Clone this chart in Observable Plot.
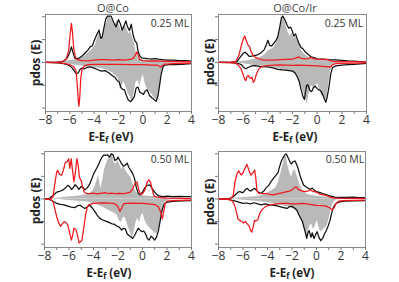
<!DOCTYPE html>
<html><head><meta charset="utf-8">
<script src="https://cdn.jsdelivr.net/npm/d3@7"></script>
<script src="https://cdn.jsdelivr.net/npm/@observablehq/plot@0.6"></script>
<style>
body{margin:0;background:#fff;font-family:"Open Sans",sans-serif;}
#c{position:relative;width:399px;height:282px;overflow:hidden;}
#c svg{position:absolute;}
.lab{position:absolute;white-space:nowrap;transform:translate(-50%,-50%);color:#333;line-height:1;}
.title{font-size:11px;color:#444;}
.ml{font-size:10.5px;color:#333;}
.xl{font-weight:bold;font-size:11.5px;color:#222;}
.xl sub{font-size:8px;vertical-align:-2px;line-height:0;}
.yl{font-weight:bold;font-size:12px;color:#222;transform:translate(-50%,-50%) rotate(-90deg);}
</style></head>
<body><div id="c"></div>
<script>
// ---- data: energies relative to Fermi level (eV), pdos values (spin up > 0, spin down < 0)
const xMajorTicks = [-8,-6,-4,-2,0,2,4];
const xMinorTicks = [-7,-5,-3,-1,1,3];
const yTicks = [-2,-1,0,1,2];
const panelTitles = ["O@Co","O@Co/Ir"];
const coverageLabels = ["0.25 ML","0.25 ML","0.50 ML","0.50 ML"];

// Panel 1: O@Co 0.25 ML
const p1GrayUp = [[-8,0],[-6.8,0.02],[-6.3,0.05],[-6,0.08],[-5.5,0.12],[-5,0.2],[-4.7,0.3],[-4.4,0.45],[-4.1,0.6],[-3.9,0.75],[-3.7,1.1],[-3.6,1.3],[-3.5,1.2],[-3.35,0.95],[-3.2,1.3],[-3.0,1.7],[-2.85,1.95],[-2.7,2.0],[-2.55,1.9],[-2.4,1.65],[-2.25,1.7],[-2.1,1.8],[-1.95,1.65],[-1.8,1.4],[-1.6,1.55],[-1.45,1.65],[-1.3,1.45],[-1.15,1.25],[-1.0,1.35],[-0.85,1.1],[-0.7,0.85],[-0.55,0.45],[-0.4,0.2],[-0.2,0.12],[0,0.1],[0.5,0.1],[1,0.1],[1.5,0.08],[2,0.05],[3,0.03],[4,0.02]];
const p1BlackUp = [[-8,0],[-7,0.01],[-6.5,0.05],[-6.2,0.2],[-6.0,0.45],[-5.87,0.68],[-5.75,0.45],[-5.6,0.2],[-5.45,0.15],[-5.2,0.2],[-5,0.28],[-4.8,0.38],[-4.5,0.55],[-4.3,0.7],[-4.15,0.72],[-4.0,0.95],[-3.8,1.2],[-3.6,1.42],[-3.45,1.05],[-3.35,1.1],[-3.2,1.5],[-3.05,1.9],[-2.9,2.03],[-2.6,2.03],[-2.4,1.75],[-2.2,1.56],[-2.0,1.88],[-1.85,1.7],[-1.7,1.42],[-1.55,1.6],[-1.4,1.82],[-1.25,1.55],[-1.1,1.4],[-0.95,1.68],[-0.8,1.2],[-0.65,0.95],[-0.5,0.85],[-0.4,0.5],[-0.25,0.28],[-0.1,0.2],[0.2,0.18],[0.6,0.15],[1,0.17],[1.3,0.14],[1.6,0.12],[2,0.1],[2.5,0.1],[3,0.08],[3.5,0.08],[4,0.06]];
const p1RedUp = [[-8,0],[-7,0.01],[-6.6,0.04],[-6.3,0.15],[-6.1,0.5],[-5.98,1.2],[-5.87,1.71],[-5.78,1.3],[-5.68,0.6],[-5.55,0.25],[-5.4,0.12],[-5,0.08],[-4.5,0.07],[-4,0.1],[-3.5,0.12],[-3,0.12],[-2.5,0.1],[-2,0.12],[-1.5,0.1],[-1.0,0.13],[-0.75,0.2],[-0.6,0.35],[-0.49,0.46],[-0.38,0.3],[-0.25,0.12],[0,0.08],[0.5,0.06],[1,0.07],[1.5,0.06],[2,0.05],[3,0.04],[4,0.02]];
const p1GrayDn = [[-8,0],[-7,-0.01],[-6.5,-0.03],[-6,-0.08],[-5.5,-0.12],[-5,-0.17],[-4.5,-0.2],[-4,-0.22],[-3.5,-0.27],[-3,-0.32],[-2.5,-0.45],[-2.2,-0.6],[-2.0,-0.72],[-1.85,-1.2],[-1.7,-1.0],[-1.55,-0.85],[-1.4,-1.05],[-1.2,-1.35],[-1.0,-1.55],[-0.85,-1.75],[-0.7,-1.3],[-0.55,-0.85],[-0.4,-0.8],[-0.25,-1.05],[-0.1,-0.7],[0.05,-0.55],[0.2,-0.95],[0.4,-1.2],[0.6,-1.3],[0.8,-1.45],[1.0,-1.6],[1.2,-1.65],[1.35,-1.3],[1.5,-0.7],[1.6,-0.3],[1.75,-0.1],[2,-0.05],[3,-0.02],[4,-0.01]];
const p1BlackDn = [[-8,0],[-7,-0.02],[-6.5,-0.05],[-6.2,-0.1],[-6.0,-0.15],[-5.8,-0.25],[-5.6,-0.4],[-5.45,-0.5],[-5.3,-0.45],[-5.15,-0.3],[-5,-0.25],[-4.8,-0.28],[-4.6,-0.22],[-4.3,-0.2],[-4,-0.25],[-3.7,-0.32],[-3.4,-0.38],[-3.1,-0.36],[-2.8,-0.45],[-2.5,-0.58],[-2.3,-0.65],[-2.1,-0.8],[-1.95,-0.85],[-1.8,-1.1],[-1.65,-1.18],[-1.5,-1.2],[-1.35,-1.45],[-1.2,-1.65],[-1.0,-1.72],[-0.85,-1.62],[-0.7,-1.5],[-0.55,-1.12],[-0.4,-1.08],[-0.25,-1.3],[-0.1,-1.35],[0.05,-1.4],[0.2,-1.25],[0.35,-1.2],[0.55,-1.45],[0.75,-1.55],[0.9,-1.62],[1.1,-1.7],[1.25,-1.45],[1.35,-1.1],[1.5,-0.55],[1.65,-0.2],[1.8,-0.12],[2.2,-0.1],[2.7,-0.1],[3.2,-0.08],[3.7,-0.06],[4,-0.05]];
const p1RedDn = [[-8,0],[-7,-0.01],[-6.5,-0.04],[-6,-0.1],[-5.7,-0.18],[-5.5,-0.35],[-5.4,-0.9],[-5.3,-1.7],[-5.25,-1.92],[-5.18,-1.5],[-5.1,-0.7],[-5.0,-0.3],[-4.8,-0.15],[-4.5,-0.1],[-4,-0.08],[-3,-0.08],[-2,-0.08],[-1,-0.1],[0,-0.1],[0.8,-0.12],[1.2,-0.12],[1.45,-0.2],[1.6,-0.15],[1.8,-0.07],[2.5,-0.05],[4,-0.03]];

// Panel 2: O@Co/Ir 0.25 ML
const p2GrayUp = [[-8,0],[-6.8,0.01],[-6.3,0.03],[-6,0.05],[-5.5,0.08],[-5,0.15],[-4.6,0.22],[-4.2,0.35],[-4,0.5],[-3.8,0.55],[-3.5,0.65],[-3.25,0.9],[-3.05,1.3],[-2.9,1.8],[-2.8,2.0],[-2.65,1.85],[-2.5,1.6],[-2.35,1.3],[-2.2,1.15],[-2.05,1.3],[-1.9,1.05],[-1.75,1.15],[-1.6,0.95],[-1.45,0.75],[-1.3,0.55],[-1.1,0.4],[-0.9,0.3],[-0.6,0.2],[-0.3,0.15],[0,0.12],[0.5,0.1],[1,0.08],[1.5,0.05],[2,0.04],[3,0.02],[4,0.01]];
const p2BlackUp = [[-8,0],[-7,0.01],[-6.5,0.05],[-6.2,0.25],[-6.0,0.4],[-5.85,0.45],[-5.7,0.38],[-5.5,0.26],[-5.3,0.28],[-5.1,0.3],[-4.9,0.32],[-4.6,0.4],[-4.3,0.55],[-4.1,0.8],[-4.0,0.97],[-3.85,0.75],[-3.7,0.72],[-3.5,0.85],[-3.35,0.95],[-3.2,1.12],[-3.05,1.5],[-2.9,1.95],[-2.8,2.03],[-2.7,1.95],[-2.6,1.85],[-2.45,1.65],[-2.3,1.5],[-2.15,1.55],[-2.0,1.35],[-1.9,1.15],[-1.75,1.25],[-1.6,1.0],[-1.45,0.8],[-1.3,0.65],[-1.15,0.6],[-1.0,0.48],[-0.8,0.38],[-0.5,0.25],[-0.2,0.2],[0,0.16],[0.5,0.14],[1,0.12],[1.5,0.11],[2,0.09],[2.5,0.07],[3,0.06],[3.5,0.04],[4,0.02]];
const p2RedUp = [[-8,0],[-7,0.01],[-6.6,0.05],[-6.35,0.3],[-6.15,0.75],[-5.98,1.05],[-5.87,1.16],[-5.75,0.95],[-5.6,0.75],[-5.46,0.68],[-5.35,0.45],[-5.2,0.32],[-5.0,0.22],[-4.7,0.15],[-4.4,0.11],[-4,0.1],[-3.5,0.1],[-3,0.12],[-2.5,0.13],[-2,0.14],[-1.7,0.2],[-1.5,0.24],[-1.3,0.18],[-1,0.16],[-0.7,0.17],[-0.5,0.22],[-0.3,0.16],[0,0.14],[0.5,0.13],[0.9,0.12],[1.2,0.06],[1.6,0.04],[2.5,0.03],[4,0.02]];
const p2GrayDn = [[-8,0],[-7,-0.01],[-6.5,-0.03],[-6,-0.06],[-5.5,-0.1],[-5,-0.14],[-4.5,-0.17],[-4,-0.2],[-3.5,-0.24],[-3,-0.3],[-2.5,-0.35],[-2,-0.42],[-1.7,-0.55],[-1.5,-0.7],[-1.3,-1.0],[-1.15,-1.25],[-1.0,-1.45],[-0.9,-1.6],[-0.8,-1.85],[-0.7,-1.5],[-0.55,-1.15],[-0.4,-1.0],[-0.25,-1.2],[-0.1,-1.05],[0.05,-0.9],[0.2,-1.2],[0.35,-1.45],[0.5,-1.55],[0.65,-1.7],[0.8,-1.55],[0.95,-0.9],[1.1,-0.35],[1.25,-0.12],[1.5,-0.05],[2,-0.03],[3,-0.01],[4,0]];
const p2BlackDn = [[-8,0],[-7,-0.01],[-6.6,-0.03],[-6.3,-0.06],[-6.1,-0.12],[-5.95,-0.22],[-5.8,-0.28],[-5.6,-0.22],[-5.3,-0.15],[-5.0,-0.14],[-4.7,-0.17],[-4.4,-0.18],[-4.0,-0.2],[-3.6,-0.24],[-3.2,-0.3],[-2.8,-0.33],[-2.4,-0.35],[-2.0,-0.38],[-1.8,-0.45],[-1.6,-0.65],[-1.45,-0.85],[-1.3,-1.2],[-1.15,-1.5],[-1.03,-1.62],[-0.95,-1.3],[-0.85,-1.0],[-0.75,-0.98],[-0.6,-1.22],[-0.45,-1.28],[-0.3,-1.1],[-0.15,-1.05],[0,-1.15],[0.15,-1.2],[0.3,-1.25],[0.45,-1.4],[0.6,-1.62],[0.7,-1.75],[0.8,-1.55],[0.95,-1.1],[1.1,-0.5],[1.25,-0.22],[1.5,-0.15],[2,-0.12],[2.5,-0.1],[3,-0.08],[3.5,-0.06],[4,-0.04]];
const p2RedDn = [[-8,0],[-7,-0.01],[-6.6,-0.04],[-6.4,-0.12],[-6.2,-0.25],[-6.05,-0.45],[-5.9,-0.7],[-5.8,-0.8],[-5.7,-0.65],[-5.6,-0.57],[-5.48,-0.65],[-5.38,-0.7],[-5.28,-0.65],[-5.18,-0.87],[-5.08,-0.8],[-4.95,-0.55],[-4.8,-0.35],[-4.6,-0.22],[-4.3,-0.16],[-4,-0.14],[-3.5,-0.12],[-3,-0.11],[-2.5,-0.12],[-2,-0.13],[-1.5,-0.12],[-1,-0.13],[-0.5,-0.14],[0,-0.15],[0.5,-0.17],[0.9,-0.2],[1.1,-0.2],[1.25,-0.1],[1.5,-0.05],[2,-0.04],[3,-0.03],[4,-0.02]];

// Panel 3: O@Co 0.50 ML
const p3GrayUp = [[-8,0],[-7.2,0.01],[-6.8,0.04],[-6.3,0.07],[-5.8,0.1],[-5.3,0.12],[-4.8,0.16],[-4.4,0.22],[-4.1,0.32],[-3.9,0.5],[-3.75,0.75],[-3.6,1.05],[-3.5,0.75],[-3.4,0.45],[-3.25,0.8],[-3.1,1.3],[-2.95,1.55],[-2.8,1.75],[-2.6,1.9],[-2.45,1.95],[-2.3,1.6],[-2.15,1.55],[-2.0,1.7],[-1.85,1.5],[-1.7,1.3],[-1.55,1.45],[-1.4,1.3],[-1.25,1.15],[-1.1,1.05],[-0.95,0.95],[-0.8,0.7],[-0.65,0.45],[-0.5,0.3],[-0.3,0.2],[0,0.14],[0.5,0.12],[1,0.1],[1.5,0.07],[2,0.05],[3,0.03],[4,0.02]];
const p3BlackUp = [[-8,0],[-7.6,0.02],[-7.3,0.15],[-7.0,0.3],[-6.7,0.35],[-6.5,0.4],[-6.3,0.48],[-6.1,0.6],[-5.95,0.55],[-5.8,0.42],[-5.65,0.5],[-5.5,0.63],[-5.35,0.55],[-5.2,0.42],[-5.0,0.55],[-4.85,0.5],[-4.7,0.4],[-4.5,0.5],[-4.35,0.62],[-4.2,0.8],[-4.0,1.1],[-3.8,1.3],[-3.6,1.5],[-3.45,1.7],[-3.3,1.85],[-3.15,1.95],[-3.0,1.93],[-2.85,1.95],[-2.7,1.85],[-2.55,2.0],[-2.4,1.95],[-2.25,1.7],[-2.1,1.75],[-2.0,1.85],[-1.85,1.7],[-1.7,1.55],[-1.55,1.45],[-1.4,1.5],[-1.25,1.58],[-1.1,1.38],[-0.95,1.25],[-0.8,1.12],[-0.65,0.9],[-0.5,0.5],[-0.35,0.25],[-0.2,0.18],[0,0.3],[0.2,0.5],[0.4,0.6],[0.6,0.62],[0.8,0.45],[1.0,0.3],[1.2,0.18],[1.4,0.12],[1.7,0.1],[2,0.12],[2.5,0.1],[3,0.11],[3.5,0.1],[4,0.1]];
const p3RedUp = [[-8,0],[-7.5,0.01],[-7.3,0.1],[-7.15,0.7],[-7.0,1.2],[-6.93,1.27],[-6.8,1.1],[-6.6,1.05],[-6.45,1.3],[-6.3,1.62],[-6.15,1.65],[-6.03,1.78],[-5.93,1.35],[-5.82,1.78],[-5.72,1.3],[-5.6,0.75],[-5.5,1.1],[-5.35,1.78],[-5.25,1.5],[-5.15,0.95],[-5.0,0.8],[-4.9,0.55],[-4.75,0.3],[-4.6,0.25],[-4.3,0.24],[-4.0,0.26],[-3.7,0.22],[-3.4,0.25],[-3.1,0.28],[-2.8,0.24],[-2.5,0.26],[-2.2,0.23],[-1.9,0.25],[-1.6,0.24],[-1.3,0.26],[-1.0,0.3],[-0.8,0.45],[-0.6,0.7],[-0.45,0.75],[-0.3,0.4],[-0.15,0.2],[0,0.22],[0.2,0.4],[0.35,0.7],[0.5,0.85],[0.65,0.75],[0.8,0.4],[0.95,0.12],[1.2,0.08],[1.5,0.06],[2,0.04],[3,0.02],[4,0.01]];
const p3GrayDn = [[-8,0],[-7.2,-0.01],[-6.8,-0.03],[-6.3,-0.06],[-5.8,-0.08],[-5.3,-0.1],[-4.8,-0.12],[-4.4,-0.15],[-4.0,-0.2],[-3.6,-0.28],[-3.2,-0.38],[-2.8,-0.5],[-2.4,-0.6],[-2.1,-0.7],[-1.9,-0.95],[-1.75,-1.05],[-1.6,-0.85],[-1.45,-0.8],[-1.3,-1.0],[-1.15,-1.25],[-1.0,-1.45],[-0.85,-1.75],[-0.7,-1.5],[-0.55,-1.1],[-0.4,-0.85],[-0.25,-1.05],[-0.1,-0.75],[0.05,-0.65],[0.2,-0.95],[0.4,-1.15],[0.6,-1.3],[0.8,-1.4],[1.0,-1.5],[1.2,-1.55],[1.35,-1.3],[1.5,-0.9],[1.65,-0.5],[1.8,-0.2],[2,-0.06],[3,-0.02],[4,-0.01]];
const p3BlackDn = [[-8,0],[-7.6,-0.02],[-7.3,-0.1],[-7.0,-0.2],[-6.7,-0.24],[-6.4,-0.26],[-6.1,-0.32],[-5.8,-0.36],[-5.5,-0.38],[-5.3,-0.3],[-5.1,-0.28],[-4.9,-0.36],[-4.7,-0.42],[-4.5,-0.35],[-4.3,-0.28],[-4.1,-0.4],[-3.9,-0.55],[-3.7,-0.72],[-3.5,-0.85],[-3.3,-0.92],[-3.0,-0.98],[-2.7,-1.05],[-2.5,-1.1],[-2.3,-1.12],[-2.1,-1.2],[-1.9,-1.25],[-1.7,-1.38],[-1.55,-1.3],[-1.4,-1.32],[-1.25,-1.55],[-1.1,-1.62],[-0.95,-1.68],[-0.8,-1.75],[-0.65,-1.62],[-0.5,-1.45],[-0.35,-1.3],[-0.2,-1.38],[-0.05,-1.45],[0.1,-1.42],[0.25,-1.55],[0.4,-1.75],[0.55,-1.82],[0.7,-1.65],[0.85,-1.72],[1.0,-1.82],[1.15,-1.68],[1.3,-1.4],[1.45,-0.95],[1.6,-0.5],[1.75,-0.25],[1.9,-0.16],[2.3,-0.12],[2.8,-0.1],[3.3,-0.09],[4,-0.08]];
const p3RedDn = [[-8,0],[-7.5,-0.02],[-7.3,-0.12],[-7.15,-0.45],[-7.0,-0.8],[-6.85,-1.05],[-6.7,-1.21],[-6.55,-1.1],[-6.4,-1.0],[-6.25,-1.05],[-6.1,-1.15],[-5.95,-1.5],[-5.8,-1.82],[-5.7,-1.6],[-5.6,-1.3],[-5.45,-1.35],[-5.3,-1.6],[-5.18,-1.95],[-5.05,-1.88],[-4.95,-1.85],[-4.8,-1.3],[-4.65,-0.7],[-4.5,-0.35],[-4.35,-0.24],[-4.0,-0.2],[-3.6,-0.18],[-3.2,-0.17],[-2.8,-0.18],[-2.4,-0.2],[-2.15,-0.25],[-2.0,-0.35],[-1.85,-0.55],[-1.7,-0.4],[-1.55,-0.22],[-1.3,-0.2],[-1.0,-0.19],[-0.5,-0.2],[0,-0.2],[0.5,-0.22],[1.0,-0.25],[1.3,-0.35],[1.5,-0.6],[1.62,-0.88],[1.72,-0.6],[1.85,-0.2],[2.0,-0.1],[2.5,-0.07],[3,-0.06],[4,-0.05]];

// Panel 4: O@Co/Ir 0.50 ML
const p4GrayUp = [[-8,0],[-7,0.01],[-6.5,0.04],[-6,0.06],[-5.5,0.08],[-5,0.1],[-4.6,0.13],[-4.2,0.2],[-3.9,0.3],[-3.6,0.38],[-3.3,0.5],[-3.1,0.75],[-2.95,1.05],[-2.8,1.35],[-2.65,1.7],[-2.55,1.92],[-2.45,1.85],[-2.35,1.5],[-2.2,1.2],[-2.05,0.95],[-1.9,1.2],[-1.75,1.3],[-1.6,1.05],[-1.45,0.8],[-1.3,0.55],[-1.15,0.4],[-1.0,0.3],[-0.7,0.2],[-0.4,0.15],[0,0.12],[0.5,0.1],[1,0.08],[1.5,0.05],[2,0.03],[3,0.02],[4,0.01]];
const p4BlackUp = [[-8,0],[-7.2,0.01],[-7.0,0.04],[-6.8,0.1],[-6.6,0.2],[-6.4,0.3],[-6.25,0.33],[-6.1,0.28],[-5.95,0.3],[-5.8,0.42],[-5.65,0.47],[-5.5,0.38],[-5.35,0.35],[-5.2,0.42],[-5.05,0.47],[-4.9,0.38],[-4.7,0.28],[-4.5,0.25],[-4.3,0.35],[-4.1,0.5],[-3.9,0.6],[-3.7,0.78],[-3.5,0.92],[-3.3,1.05],[-3.15,1.15],[-3.0,1.45],[-2.85,1.7],[-2.7,1.85],[-2.55,1.98],[-2.45,1.98],[-2.3,1.8],[-2.15,1.62],[-2.05,1.55],[-1.9,1.65],[-1.75,1.68],[-1.6,1.5],[-1.5,1.35],[-1.35,1.05],[-1.2,0.8],[-1.05,0.62],[-0.9,0.55],[-0.7,0.48],[-0.5,0.42],[-0.35,0.48],[-0.2,0.4],[0,0.32],[0.3,0.28],[0.6,0.22],[1.0,0.15],[1.5,0.08],[2,0.07],[2.5,0.07],[3,0.08],[3.5,0.06],[4,0.06]];
const p4RedUp = [[-8,0],[-7.2,0.01],[-7.0,0.03],[-6.8,0.15],[-6.65,0.76],[-6.5,1.1],[-6.35,1.24],[-6.15,1.06],[-6.0,1.15],[-5.85,1.35],[-5.68,1.53],[-5.5,1.25],[-5.35,1.05],[-5.2,1.15],[-5.05,1.28],[-4.95,0.9],[-4.86,0.35],[-4.7,0.25],[-4.4,0.24],[-4.1,0.23],[-3.8,0.2],[-3.5,0.18],[-3.2,0.22],[-2.9,0.26],[-2.6,0.3],[-2.3,0.33],[-2.0,0.4],[-1.8,0.5],[-1.65,0.54],[-1.5,0.42],[-1.3,0.38],[-1.0,0.32],[-0.7,0.35],[-0.5,0.4],[-0.3,0.33],[0,0.3],[0.3,0.2],[0.6,0.18],[0.9,0.14],[1.2,0.06],[1.5,0.04],[2,0.03],[3,0.02],[4,0.02]];
const p4GrayDn = [[-8,0],[-7,-0.01],[-6.5,-0.03],[-6,-0.06],[-5.5,-0.08],[-5,-0.1],[-4.5,-0.13],[-4,-0.17],[-3.5,-0.22],[-3,-0.28],[-2.5,-0.33],[-2,-0.4],[-1.7,-0.5],[-1.5,-0.6],[-1.3,-0.8],[-1.15,-1.05],[-1.0,-1.3],[-0.9,-1.55],[-0.8,-1.8],[-0.7,-1.5],[-0.55,-1.2],[-0.4,-1.1],[-0.25,-1.35],[-0.1,-1.2],[0.05,-0.95],[0.2,-1.25],[0.35,-1.45],[0.5,-1.4],[0.65,-1.3],[0.8,-1.25],[0.95,-1.05],[1.1,-0.7],[1.25,-0.35],[1.4,-0.15],[1.6,-0.05],[2,-0.02],[3,-0.01],[4,0]];
const p4BlackDn = [[-8,0],[-7.2,-0.02],[-6.9,-0.06],[-6.6,-0.1],[-6.3,-0.15],[-6.0,-0.2],[-5.7,-0.18],[-5.4,-0.22],[-5.1,-0.17],[-4.8,-0.22],[-4.5,-0.26],[-4.2,-0.22],[-3.9,-0.25],[-3.6,-0.27],[-3.3,-0.3],[-3.0,-0.34],[-2.7,-0.38],[-2.4,-0.42],[-2.2,-0.34],[-2.0,-0.33],[-1.8,-0.4],[-1.6,-0.5],[-1.45,-0.7],[-1.3,-0.85],[-1.15,-1.0],[-1.0,-1.3],[-0.9,-1.5],[-0.8,-1.75],[-0.7,-1.5],[-0.6,-1.4],[-0.45,-1.7],[-0.35,-1.5],[-0.2,-1.75],[-0.05,-1.55],[0.05,-1.45],[0.2,-1.7],[0.35,-1.85],[0.5,-1.75],[0.65,-1.55],[0.8,-1.4],[0.95,-1.2],[1.1,-0.95],[1.25,-0.6],[1.4,-0.35],[1.6,-0.2],[1.9,-0.13],[2.3,-0.1],[3,-0.09],[4,-0.08]];
const p4RedDn = [[-8,0],[-7.2,-0.02],[-6.9,-0.08],[-6.7,-0.25],[-6.55,-0.55],[-6.4,-0.9],[-6.25,-0.95],[-6.1,-1.0],[-5.95,-1.07],[-5.8,-1.0],[-5.65,-1.1],[-5.5,-1.2],[-5.38,-1.4],[-5.28,-1.47],[-5.18,-1.25],[-5.05,-0.95],[-4.95,-0.98],[-4.8,-0.92],[-4.6,-0.6],[-4.4,-0.45],[-4.2,-0.35],[-4.0,-0.3],[-3.6,-0.25],[-3.2,-0.22],[-2.8,-0.2],[-2.4,-0.2],[-2.0,-0.22],[-1.6,-0.22],[-1.2,-0.2],[-0.8,-0.22],[-0.4,-0.25],[0,-0.28],[0.4,-0.3],[0.8,-0.32],[1.1,-0.4],[1.3,-0.5],[1.45,-0.38],[1.6,-0.2],[1.8,-0.1],[2.2,-0.07],[3,-0.06],[4,-0.05]];

// ---- layout
const panels = [
  {left:0, top:0, w:200, h:141, ml:45, mr:9, mt:14, mb:30, gu:p1GrayUp, gd:p1GrayDn, bu:p1BlackUp, bd:p1BlackDn, ru:p1RedUp, rd:p1RedDn},
  {left:200, top:0, w:199, h:141, ml:18, mr:33, mt:14, mb:30, gu:p2GrayUp, gd:p2GrayDn, bu:p2BlackUp, bd:p2BlackDn, ru:p2RedUp, rd:p2RedDn},
  {left:0, top:141, w:200, h:141, ml:44, mr:9, mt:10, mb:35, gu:p3GrayUp, gd:p3GrayDn, bu:p3BlackUp, bd:p3BlackDn, ru:p3RedUp, rd:p3RedDn},
  {left:200, top:141, w:199, h:141, ml:18, mr:34, mt:10, mb:35, gu:p4GrayUp, gd:p4GrayDn, bu:p4BlackUp, bd:p4BlackDn, ru:p4RedUp, rd:p4RedDn}
];
const X = d => d[0], Y = d => d[1];
const c = document.getElementById("c");
for (const p of panels) {
  const svg = Plot.plot({
    width: p.w, height: p.h,
    marginLeft: p.ml, marginRight: p.mr, marginTop: p.mt, marginBottom: p.mb,
    style: {fontFamily: "'Open Sans', sans-serif", fontSize: "12px", color: "#333", background: "transparent", overflow: "visible"},
    x: {domain: [-8, 4]},
    y: {domain: [-2.15, 2.1]},
    marks: [
      Plot.areaY(p.gu, {x: X, y: Y, fill: "#b9b9b9"}),
      Plot.areaY(p.gd, {x: X, y: Y, fill: "#b9b9b9"}),
      Plot.lineY(p.bu, {x: X, y: Y, stroke: "#111", strokeWidth: 1.25}),
      Plot.lineY(p.bd, {x: X, y: Y, stroke: "#111", strokeWidth: 1.25}),
      Plot.lineY(p.ru, {x: X, y: Y, stroke: "#f0191e", strokeWidth: 1.25}),
      Plot.lineY(p.rd, {x: X, y: Y, stroke: "#f0191e", strokeWidth: 1.25}),
      Plot.frame({stroke: "#8a8a8a", strokeWidth: 1}),
      Plot.axisX({ticks: xMajorTicks, tickSize: 3, tickPadding: 1, label: null, stroke: "#777"}),
      Plot.axisX({ticks: xMinorTicks, tickSize: 3, tickFormat: () => "", label: null, stroke: "#777"}),
      Plot.axisY({ticks: yTicks, tickSize: 3, tickFormat: () => "", label: null, stroke: "#777"})
    ]
  });
  svg.style.left = p.left + "px";
  svg.style.top = p.top + "px";
  c.appendChild(svg);
}
function lab(cls, html, x, y) {
  const d = document.createElement("div");
  d.className = "lab " + cls;
  d.innerHTML = html;
  d.style.left = x + "px"; d.style.top = y + "px";
  c.appendChild(d);
}
lab("title", panelTitles[0], 113, 7);
lab("title", panelTitles[1], 295, 7);
lab("ml", coverageLabels[0], 170, 23);
lab("ml", coverageLabels[1], 344, 23);
lab("ml", coverageLabels[2], 170, 159);
lab("ml", coverageLabels[3], 345, 159);
const xlab = "E-E<sub>f</sub> (eV)";
lab("xl", xlab, 111, 137);
lab("xl", xlab, 295, 137);
lab("xl", xlab, 109, 273);
lab("xl", xlab, 292, 273);
lab("yl", "pdos (E)", 36, 63);
lab("yl", "pdos (E)", 210, 62);
lab("yl", "pdos (E)", 36, 201);
lab("yl", "pdos (E)", 210, 202);
</script></body></html>
